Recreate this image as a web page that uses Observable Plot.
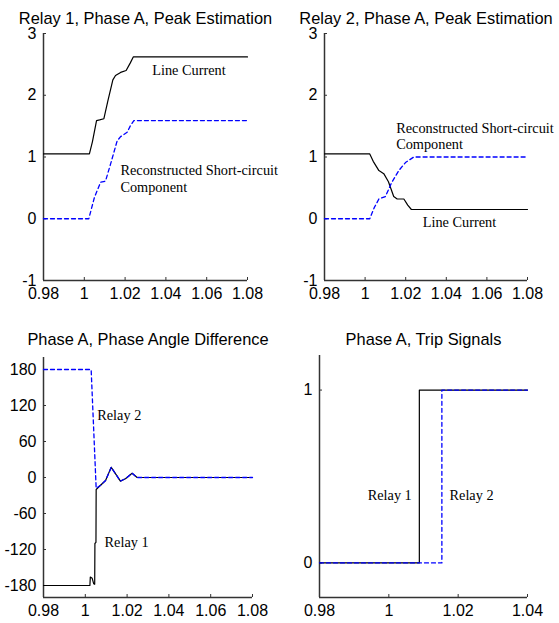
<!DOCTYPE html>
<html>
<head>
<meta charset="utf-8">
<script src="https://cdn.jsdelivr.net/npm/d3@7"></script>
<script src="https://cdn.jsdelivr.net/npm/@observablehq/plot@0.6"></script>
<style>
  html, body { margin: 0; padding: 0; background: #fff; }
  #wrap { position: relative; width: 559px; height: 623px; overflow: hidden; background: #fff; }
  #wrap > div { position: absolute; }
</style>
</head>
<body>
<div id="wrap">
  <div id="p1" style="left:0px;top:0px"></div>
  <div id="p2" style="left:279px;top:0px"></div>
  <div id="p3" style="left:0px;top:310px"></div>
  <div id="p4" style="left:279px;top:310px"></div>
</div>
<script>
// ---------- titles ----------
const titles = [
  "Relay 1, Phase A, Peak Estimation",
  "Relay 2, Phase A, Peak Estimation",
  "Phase A, Phase Angle Difference",
  "Phase A, Trip Signals"
];

// ---------- ticks ----------
const xTicksTime = [0.98, 1, 1.02, 1.04, 1.06, 1.08];
const xTicksTrip = [0.98, 1, 1.02, 1.04];
const yTicksPeak = [-1, 0, 1, 2, 3];
const yTicksAngle = [-180, -120, -60, 0, 60, 120, 180];
const yTicksTrip = [0, 1];

// ---------- Panel 1: Relay 1 peak estimation ----------
const r1LineCurrent = [
  [0.98, 1.05], [1.0025, 1.05], [1.0040, 1.25], [1.0060, 1.59], [1.0075, 1.60],
  [1.0096, 1.62], [1.0115, 1.90], [1.0140, 2.25], [1.0153, 2.32], [1.0178, 2.37],
  [1.0205, 2.40], [1.0225, 2.52], [1.0240, 2.62], [1.08, 2.62]
];
const r1ShortCircuit = [
  [0.98, 0.0], [1.0022, 0.0], [1.0050, 0.35], [1.0080, 0.59], [1.0104, 0.61],
  [1.0130, 0.90], [1.0161, 1.26], [1.0178, 1.33], [1.0210, 1.40], [1.0225, 1.50],
  [1.0243, 1.59], [1.08, 1.59]
];

// ---------- Panel 2: Relay 2 peak estimation ----------
const r2LineCurrent = [
  [0.98, 1.05], [1.0023, 1.05], [1.0040, 0.93], [1.0068, 0.78], [1.0092, 0.73],
  [1.0115, 0.60], [1.0141, 0.36], [1.0158, 0.32], [1.0191, 0.32], [1.0210, 0.22],
  [1.0228, 0.15], [1.08, 0.15]
];
const r2ShortCircuit = [
  [0.98, 0.0], [1.0023, 0.0], [1.0045, 0.18], [1.0068, 0.32], [1.0100, 0.36],
  [1.0130, 0.58], [1.0166, 0.78], [1.0199, 0.91], [1.0240, 1.00], [1.08, 1.00]
];

// ---------- Panel 3: phase angle difference ----------
const angleRelay1 = [
  [0.98, -180], [1.0022, -180], [1.0024, -166], [1.0033, -168], [1.0040, -177],
  [1.0045, -178], [1.0046, -110], [1.0051, -108], [1.0052, -20], [1.0073, -13],
  [1.0097, -5], [1.0124, 17], [1.0145, 6], [1.0168, -6], [1.0192, -2],
  [1.0224, 7], [1.0248, 0], [1.08, 0]
];
const angleRelay2 = [
  [0.98, 180], [1.0028, 180], [1.0052, -18], [1.0073, -13],
  [1.0097, -5], [1.0124, 17], [1.0145, 6], [1.0168, -6], [1.0192, -2],
  [1.0224, 7], [1.0248, 0], [1.08, 0]
];

// ---------- Panel 4: trip signals ----------
const tripRelay1 = [[0.98, 0], [1.0088, 0], [1.0088, 1], [1.04, 1]];
const tripRelay2 = [[0.98, 0], [1.0153, 0], [1.0153, 1], [1.04, 1]];

// ---------- annotations ----------
const labels1 = [
  {x: 1.0333, y: 2.40, text: "Line Current"},
  {x: 1.0177, y: 0.78, text: "Reconstructed Short-circuit"},
  {x: 1.0177, y: 0.51, text: "Component"}
];
const labels2 = [
  {x: 1.0153, y: 1.47, text: "Reconstructed Short-circuit"},
  {x: 1.0153, y: 1.20, text: "Component"},
  {x: 1.0284, y: -0.06, text: "Line Current"}
];
const labels3 = [
  {x: 1.0057, y: 103, text: "Relay 2"},
  {x: 1.0092, y: -109, text: "Relay 1"}
];
const labels4 = [
  {x: 0.9939, y: 0.39, text: "Relay 1"},
  {x: 1.0175, y: 0.39, text: "Relay 2"}
];

const BLUE = "#0000ff";
const AXIS = "#333";
const fmt = d => String(+d.toFixed(2));

function panel({el, width, height, margins, xDomain, yDomain, xTicks, yTicks, title, titleDy, solid, dashed, labels}) {
  const [mt, mr, mb, ml] = margins;
  const innerW = width - ml - mr;
  const innerH = height - mt - mb;
  const chart = Plot.plot({
    width, height,
    marginTop: mt, marginRight: mr, marginBottom: mb, marginLeft: ml,
    style: {fontFamily: "'Liberation Sans', Arial, sans-serif", fontSize: "16px", color: "#000", background: "transparent", overflow: "visible"},
    x: {domain: xDomain, label: null},
    y: {domain: yDomain, label: null},
    marks: [
      Plot.axisX({ticks: xTicks, tickFormat: fmt, tickSize: 0, tickPadding: 7, label: null, fill: "#000"}),
      Plot.axisY({ticks: yTicks, tickFormat: fmt, tickSize: 0, tickPadding: 7, label: null, fill: "#000"}),
      // inward tick marks
      Plot.ruleX(xTicks, {x: d => d, insetTop: innerH - 3, stroke: AXIS, strokeWidth: 1}),
      Plot.ruleY(yTicks, {y: d => d, insetRight: innerW - 3, stroke: AXIS, strokeWidth: 1}),
      Plot.ruleX([xDomain[0]], {stroke: AXIS, strokeWidth: 1.5}),
      Plot.ruleY([yDomain[0]], {stroke: AXIS, strokeWidth: 1.5}),
      Plot.line(solid, {x: d => d[0], y: d => d[1], stroke: "#000", strokeWidth: 1.2}),
      Plot.line(dashed, {x: d => d[0], y: d => d[1], stroke: BLUE, strokeWidth: 1.3, strokeDasharray: "4,3"}),
      Plot.text(labels, {x: "x", y: "y", text: "text", textAnchor: "start", lineAnchor: "middle",
        fontFamily: "'Liberation Serif', 'Times New Roman', serif", fontSize: 14.3, fill: "#000"}),
      Plot.text([title], {text: d => d, frameAnchor: "top", lineAnchor: "bottom", dy: titleDy, fontSize: 16.4, fill: "#000"})
    ]
  });
  document.getElementById(el).appendChild(chart);
}

panel({el: "p1", width: 279, height: 310, margins: [33, 32, 30, 43],
  xDomain: [0.98, 1.08], yDomain: [-1, 3], xTicks: xTicksTime, yTicks: yTicksPeak,
  title: titles[0], titleDy: -10, solid: r1LineCurrent, dashed: r1ShortCircuit, labels: labels1});

panel({el: "p2", width: 280, height: 310, margins: [33, 32, 30, 45],
  xDomain: [0.98, 1.08], yDomain: [-1, 3], xTicks: xTicksTime, yTicks: yTicksPeak,
  title: titles[1], titleDy: -10, solid: r2LineCurrent, dashed: r2ShortCircuit, labels: labels2});

panel({el: "p3", width: 279, height: 313, margins: [47, 27, 26, 43],
  xDomain: [0.98, 1.08], yDomain: [-200, 200], xTicks: xTicksTime, yTicks: yTicksAngle,
  title: titles[2], titleDy: -13, solid: angleRelay1, dashed: angleRelay2, labels: labels3});

panel({el: "p4", width: 280, height: 313, margins: [45, 32, 26, 40],
  xDomain: [0.98, 1.04], yDomain: [-0.2, 1.2], xTicks: xTicksTrip, yTicks: yTicksTrip,
  title: titles[3], titleDy: -11, solid: tripRelay1, dashed: tripRelay2, labels: labels4});
</script>
</body>
</html>
